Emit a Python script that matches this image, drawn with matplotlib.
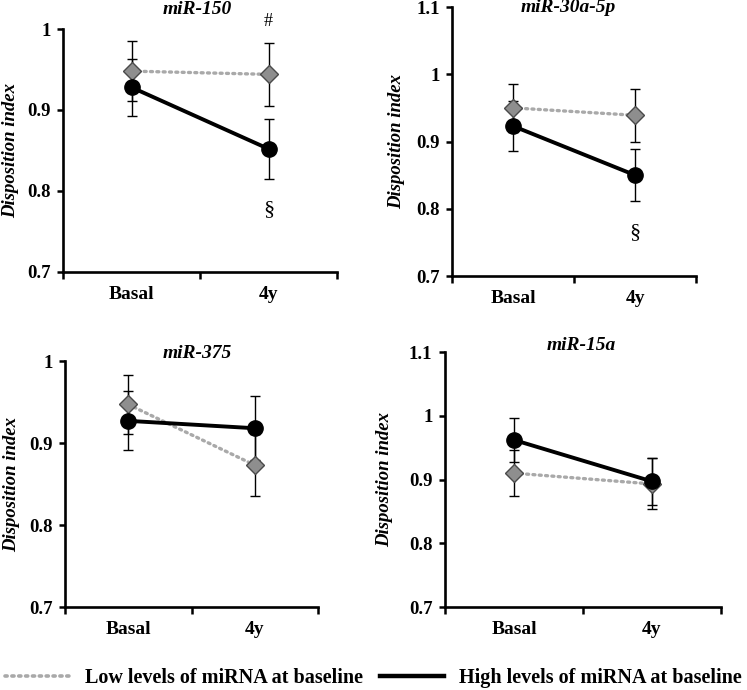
import matplotlib
matplotlib.use('Agg')
import matplotlib.pyplot as plt
from matplotlib.lines import Line2D

plt.rcParams['font.family'] = ['Liberation Serif', 'DejaVu Serif']
plt.rcParams['font.weight'] = 'bold'

# data
categories = ['Basal', '4y']
titles = ['miR-150', 'miR-30a-5p', 'miR-375', 'miR-15a']
low_mean = [[0.948, 0.944], [0.950, 0.939], [0.947, 0.873], [0.910, 0.893]]
low_err = [[0.037, 0.039], [0.036, 0.039], [0.036, 0.038], [0.036, 0.040]]
high_mean = [[0.928, 0.852], [0.923, 0.850], [0.927, 0.918], [0.962, 0.897]]
high_err = [[0.035, 0.037], [0.037, 0.039], [0.036, 0.039], [0.035, 0.037]]
y_top = [1.0, 1.1, 1.0, 1.1]
y_ticks = [[0.7, 0.8, 0.9, 1.0], [0.7, 0.8, 0.9, 1.0, 1.1],
           [0.7, 0.8, 0.9, 1.0], [0.7, 0.8, 0.9, 1.0, 1.1]]
# significance marks: (panel, symbol, category index, y value)
marks = [(0, '#', 1, 1.009), (0, '\u00a7', 1, 0.777), (1, '\u00a7', 1, 0.764)]

W, H = 747, 690
fig = plt.figure(figsize=(W / 100, H / 100), dpi=100)

# axes boxes in pixels: left, right, top, bottom
boxes = [(63, 337, 29, 272), (452, 696, 7, 276), (65, 318, 361, 607), (445, 721, 352, 607)]
title_pos = [(197, 10), (568, 8), (197, 353), (581, 345)]
ylab_x = [-0.19, -0.225, -0.21, -0.218]

gray_line = '#a9a9a9'
axes = []
for i, (l, r, t, b) in enumerate(boxes):
    ax = fig.add_axes([l / W, 1 - b / H, (r - l) / W, (b - t) / H])
    axes.append(ax)
    x = [0.5, 1.5]
    ax.errorbar(x, low_mean[i], yerr=low_err[i], fmt='none', ecolor='black',
                elinewidth=1.0, capsize=3.5, capthick=1.0, zorder=2)
    ax.errorbar(x, high_mean[i], yerr=high_err[i], fmt='none', ecolor='black',
                elinewidth=1.0, capsize=3.5, capthick=1.0, zorder=2)
    ax.plot(x, low_mean[i], color=gray_line, lw=2.4, ls=(0, (0.6, 1.3)),
            dash_capstyle='round', zorder=3)
    ax.plot(x, low_mean[i], ls='none', marker='D', ms=9, mfc='#8e8e8e',
            mec='#4a4a4a', mew=1.0, zorder=4)
    ax.plot(x, high_mean[i], color='black', lw=2.8, marker='o', ms=11,
            mfc='black', mec='black', zorder=5)

    ax.set_xlim(0, 2)
    ax.set_ylim(0.7, y_top[i])
    ax.set_yticks(y_ticks[i])
    ax.set_yticklabels(['%g' % v for v in y_ticks[i]])
    ax.set_xticks([0, 1, 2])
    ax.set_xticklabels([])
    ax.set_xticks(x, minor=True)
    ax.set_xticklabels(categories, minor=True)
    ax.tick_params(axis='x', which='major', direction='out', length=5, width=1.8)
    ax.tick_params(axis='x', which='minor', length=0, pad=10, labelsize=14)
    ax.tick_params(axis='y', direction='out', length=4, width=1.8, pad=5, labelsize=13.5)
    for s in ['top', 'right']:
        ax.spines[s].set_visible(False)
    for s in ['left', 'bottom']:
        ax.spines[s].set_linewidth(1.9)
    ax.set_ylabel('Disposition index', fontsize=13.5, fontstyle='italic', fontweight='bold')
    ax.yaxis.label.set_va('center')
    ax.yaxis.set_label_coords(ylab_x[i], 0.5)

    tx, ty = title_pos[i]
    fig.text(tx / W, 1 - ty / H, titles[i], ha='center', va='center',
             fontsize=14, fontstyle='italic', fontweight='bold')

for p, sym, ci, yv in marks:
    fs = 13 if sym == '#' else 16
    axes[p].text(ci + 0.5, yv, sym, ha='center', va='center', fontsize=fs,
                 fontweight='normal', clip_on=False)

handles = [Line2D([], [], color=gray_line, lw=2.6, ls=(0, (0.6, 1.3)), dash_capstyle='round'),
           Line2D([], [], color='black', lw=3.2)]
labels = ['Low levels of miRNA at baseline', 'High levels of miRNA at baseline']
fig.legend(handles, labels, loc='center', bbox_to_anchor=(0.5, 1 - 678 / H), ncol=2,
           frameon=False, fontsize=14.5, handlelength=3.2, handletextpad=0.75,
           columnspacing=0.85)

fig.savefig('out.png', dpi=100)
